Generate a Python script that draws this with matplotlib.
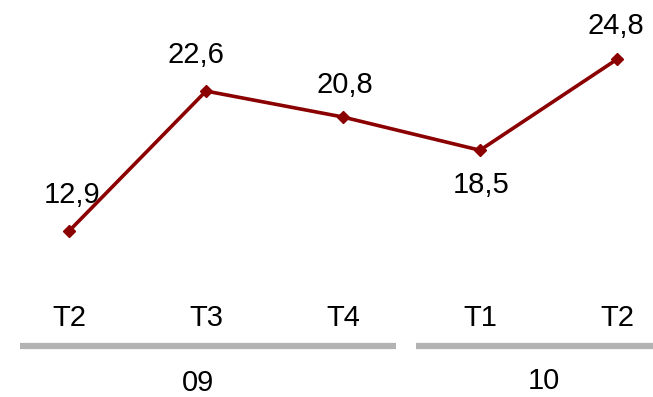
import matplotlib.pyplot as plt

quarters = ['T2', 'T3', 'T4', 'T1', 'T2']
values = [12.9, 22.6, 20.8, 18.5, 24.8]
labels = ['12,9', '22,6', '20,8', '18,5', '24,8']
years = ['09', '10']

plt.rcParams['font.family'] = 'Liberation Sans'

fig = plt.figure(figsize=(6.53, 3.97), dpi=100)
ax = fig.add_axes([0, 0, 1, 1])
ax.set_xlim(-0.504, 4.263)
ax.set_ylim(1.40, 28.91)
ax.axis('off')

x = list(range(len(values)))
ax.plot(x, values, color='#8B0000', lw=2.6, marker='D', markersize=6.5)

# value labels: below only for the dip at T1
for i, (v, lab) in enumerate(zip(values, labels)):
    below = i == 3
    dx = {0: 2, 1: -7, 2: 1, 3: 1, 4: -1}[i]
    dy = {0: 26, 1: 26, 2: 23, 3: -25, 4: 24}[i]
    ax.annotate(lab, (i, v), xytext=(dx, dy),
                textcoords='offset points', ha='center', va='center', fontsize=21)

tr = ax.get_xaxis_transform()
for i, q in enumerate(quarters):
    ax.text(i, 0.199, q, transform=tr, ha='center', va='center', fontsize=21)

ax.plot([-0.358, 2.387], [0.128, 0.128], transform=tr, color='#b3b3b3', lw=4.5, solid_capstyle='butt')
ax.plot([2.533, 4.263], [0.128, 0.128], transform=tr, color='#b3b3b3', lw=4.5, solid_capstyle='butt')

ax.text(0.94, 0.035, years[0], transform=tr, ha='center', va='center', fontsize=21)
ax.text(3.47, 0.040, years[1], transform=tr, ha='center', va='center', fontsize=21)

fig.savefig('out.png', dpi=100)
